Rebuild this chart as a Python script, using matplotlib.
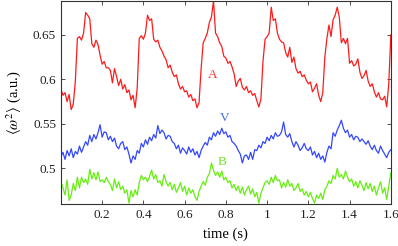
import numpy as np
import matplotlib
matplotlib.use('Agg')
import matplotlib.pyplot as plt

plt.rcParams['font.family'] = ['Liberation Serif', 'DejaVu Serif']
plt.rcParams['mathtext.fontset'] = 'stix'

# <w^2> traces, sampled every 0.01 s
sig_a = [0.589, 0.582, 0.585, 0.575, 0.583, 0.566, 0.572, 0.598, 0.646, 0.648,
         0.644, 0.652, 0.675, 0.672, 0.668, 0.640, 0.636, 0.644, 0.639, 0.627,
         0.617, 0.620, 0.613, 0.613, 0.610, 0.596, 0.612, 0.603, 0.593, 0.600,
         0.589, 0.594, 0.585, 0.588, 0.577, 0.582, 0.568, 0.590, 0.646, 0.649,
         0.645, 0.652, 0.672, 0.666, 0.668, 0.645, 0.642, 0.644, 0.636, 0.632,
         0.626, 0.622, 0.613, 0.616, 0.608, 0.603, 0.605, 0.595, 0.589, 0.592,
         0.586, 0.587, 0.580, 0.583, 0.576, 0.578, 0.568, 0.574, 0.612, 0.641,
         0.646, 0.652, 0.664, 0.670, 0.688, 0.652, 0.648, 0.641, 0.637, 0.626,
         0.624, 0.618, 0.620, 0.614, 0.606, 0.592, 0.598, 0.601, 0.591, 0.588,
         0.592, 0.585, 0.587, 0.582, 0.584, 0.576, 0.569, 0.578, 0.620, 0.645,
         0.648, 0.652, 0.681, 0.666, 0.668, 0.652, 0.645, 0.642, 0.641, 0.630,
         0.625, 0.636, 0.619, 0.625, 0.612, 0.607, 0.609, 0.603, 0.605, 0.599,
         0.595, 0.597, 0.586, 0.590, 0.595, 0.582, 0.575, 0.585, 0.625, 0.646,
         0.661, 0.648, 0.667, 0.672, 0.681, 0.670, 0.641, 0.646, 0.640, 0.646,
         0.618, 0.621, 0.615, 0.617, 0.623, 0.608, 0.601, 0.604, 0.610, 0.598,
         0.592, 0.595, 0.586, 0.580, 0.585, 0.578, 0.577, 0.581, 0.569, 0.595,
         0.650]

sig_v = [0.513, 0.518, 0.510, 0.520, 0.514, 0.522, 0.512, 0.519, 0.516, 0.525,
         0.518, 0.524, 0.530, 0.526, 0.537, 0.530, 0.538, 0.533, 0.540, 0.549,
         0.535, 0.541, 0.540, 0.532, 0.536, 0.530, 0.534, 0.525, 0.522, 0.528,
         0.530, 0.521, 0.524, 0.516, 0.506, 0.514, 0.510, 0.520, 0.517, 0.528,
         0.524, 0.532, 0.527, 0.535, 0.531, 0.538, 0.534, 0.548, 0.539, 0.543,
         0.540, 0.533, 0.537, 0.536, 0.530, 0.528, 0.522, 0.526, 0.517, 0.523,
         0.520, 0.516, 0.524, 0.518, 0.522, 0.515, 0.519, 0.512, 0.520, 0.525,
         0.529, 0.526, 0.535, 0.532, 0.540, 0.536, 0.542, 0.538, 0.545, 0.539,
         0.541, 0.535, 0.537, 0.530, 0.528, 0.525, 0.520, 0.516, 0.506, 0.514,
         0.515, 0.510, 0.518, 0.510, 0.521, 0.520, 0.526, 0.523, 0.530, 0.528,
         0.535, 0.531, 0.537, 0.533, 0.540, 0.536, 0.537, 0.541, 0.552, 0.538,
         0.535, 0.539, 0.530, 0.524, 0.530, 0.526, 0.520, 0.523, 0.528, 0.522,
         0.520, 0.524, 0.515, 0.519, 0.512, 0.517, 0.510, 0.514, 0.507, 0.518,
         0.525, 0.522, 0.540, 0.536, 0.543, 0.548, 0.554, 0.545, 0.540, 0.543,
         0.535, 0.538, 0.532, 0.536, 0.535, 0.530, 0.533, 0.530, 0.527, 0.531,
         0.525, 0.521, 0.526, 0.520, 0.517, 0.525, 0.520, 0.516, 0.512, 0.518,
         0.521]

sig_b = [0.485, 0.478, 0.470, 0.487, 0.464, 0.470, 0.483, 0.475, 0.490, 0.478,
         0.490, 0.484, 0.488, 0.482, 0.499, 0.488, 0.495, 0.487, 0.496, 0.485,
         0.487, 0.484, 0.490, 0.485, 0.482, 0.475, 0.488, 0.478, 0.485, 0.476,
         0.480, 0.472, 0.476, 0.461, 0.475, 0.468, 0.476, 0.470, 0.484, 0.492,
         0.487, 0.490, 0.485, 0.491, 0.498, 0.488, 0.493, 0.484, 0.486, 0.480,
         0.493, 0.485, 0.480, 0.484, 0.476, 0.482, 0.473, 0.478, 0.484, 0.474,
         0.480, 0.470, 0.478, 0.472, 0.476, 0.468, 0.464, 0.474, 0.480, 0.485,
         0.481, 0.490, 0.494, 0.506, 0.498, 0.492, 0.496, 0.490, 0.497, 0.487,
         0.490, 0.484, 0.486, 0.478, 0.482, 0.475, 0.480, 0.472, 0.479, 0.470,
         0.476, 0.480, 0.471, 0.477, 0.468, 0.473, 0.461, 0.472, 0.478, 0.484,
         0.486, 0.482, 0.490, 0.484, 0.492, 0.486, 0.487, 0.478, 0.484, 0.479,
         0.487, 0.480, 0.483, 0.475, 0.478, 0.483, 0.474, 0.477, 0.470, 0.474,
         0.468, 0.473, 0.466, 0.461, 0.470, 0.466, 0.472, 0.465, 0.476, 0.480,
         0.486, 0.483, 0.492, 0.488, 0.500, 0.490, 0.493, 0.488, 0.497, 0.490,
         0.485, 0.488, 0.480, 0.485, 0.478, 0.486, 0.481, 0.475, 0.484, 0.477,
         0.483, 0.474, 0.480, 0.470, 0.478, 0.485, 0.472, 0.478, 0.465, 0.480,
         0.495]

xticks = [0.2, 0.4, 0.6, 0.8, 1.0, 1.2, 1.4, 1.6]
xticklabels = ['0.2', '0.4', '0.6', '0.8', '1', '1.2', '1.4', '1.6']
yticks = [0.5, 0.55, 0.6, 0.65]
yticklabels = ['0.5', '0.55', '0.6', '0.65']

fig = plt.figure(figsize=(3.98, 2.46), dpi=100)
ax = fig.add_axes([0.153, 0.171, 0.829, 0.825])

for sig, col in [(sig_a, '#ff1a1a'), (sig_v, '#3347ff'), (sig_b, '#66ee11')]:
    t = np.linspace(0, 1.6, len(sig))
    ax.plot(t, sig, color=col, lw=0.9)

ax.text(0.737, 0.605, 'A', color='#ff3030', fontsize=9.5, ha='center', va='center')
ax.text(0.795, 0.557, 'V', color='#3f6fe0', fontsize=9.5, ha='center', va='center')
ax.text(0.78, 0.507, 'B', color='#77e030', fontsize=9.5, ha='center', va='center')

ax.set_xlim(0, 1.6)
ax.set_ylim(0.46, 0.688)
ax.set_xticks(xticks)
ax.set_xticklabels(xticklabels)
ax.set_yticks(yticks)
ax.set_yticklabels(yticklabels)
ax.tick_params(direction='in', top=True, right=True, labelsize=9.5,
               length=3, width=0.6, colors='#333333', labelcolor='#222222')
for s in ax.spines.values():
    s.set_linewidth(0.8)
    s.set_color('#333333')

ax.set_xlabel('time (s)', fontsize=10.5, labelpad=5)
ax.set_ylabel(r'$\langle\omega^2\rangle$ (a.u.)', fontsize=10.5, labelpad=7)

fig.savefig('out.png', dpi=100)
